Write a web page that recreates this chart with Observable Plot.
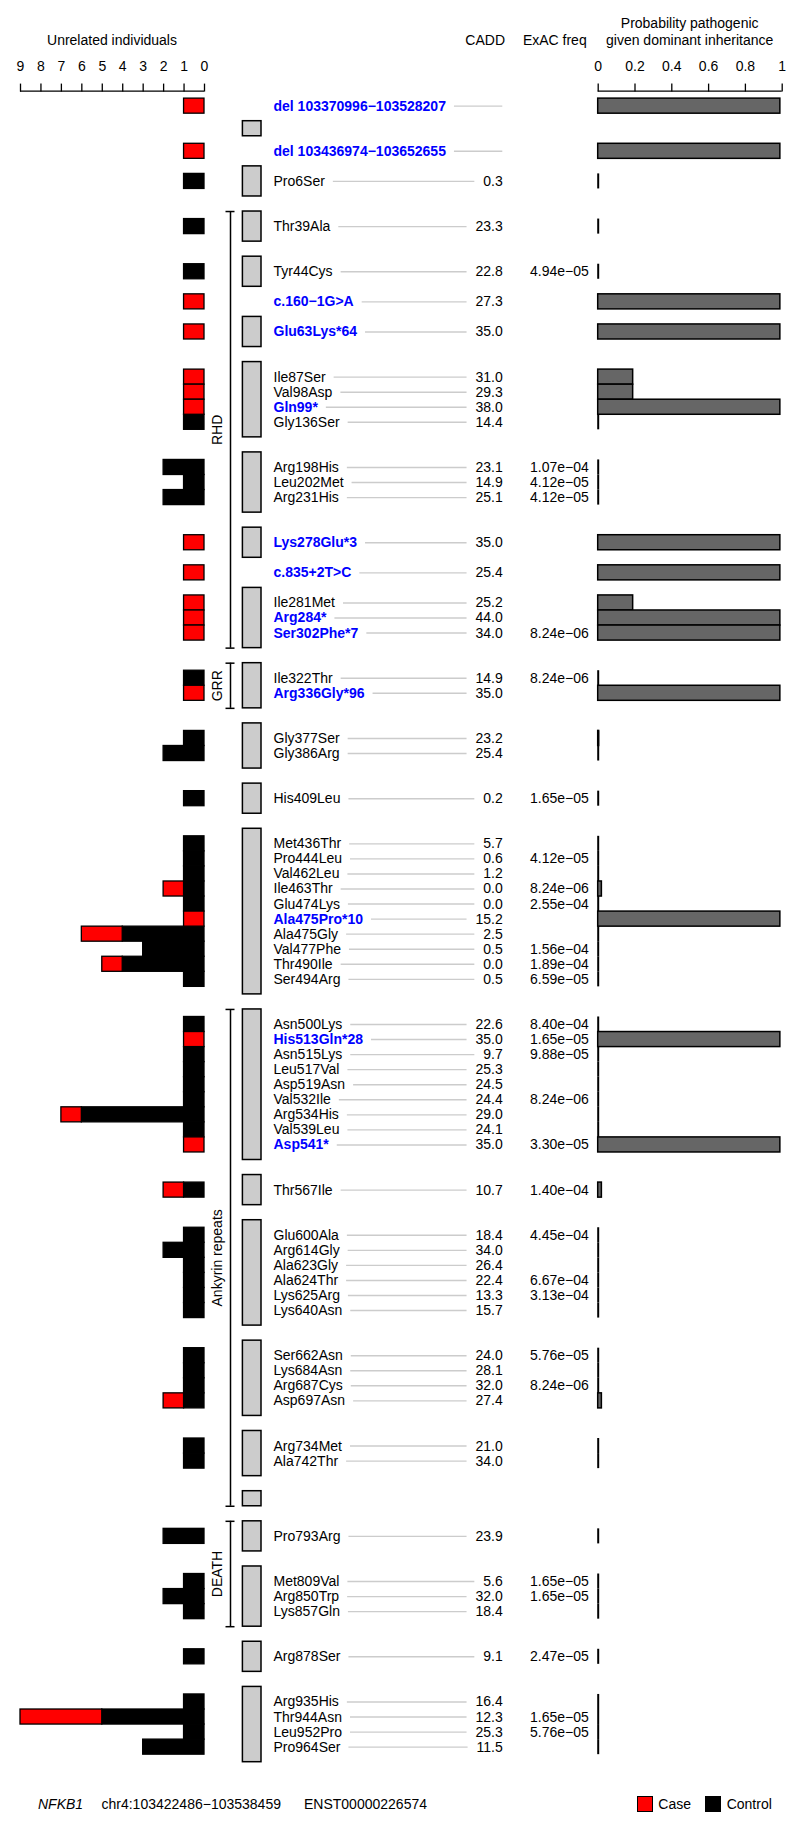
<!DOCTYPE html>
<html><head><meta charset="utf-8">
<script src="https://cdn.jsdelivr.net/npm/d3@7"></script>
<script src="https://cdn.jsdelivr.net/npm/@observablehq/plot@0.6"></script>
<style>
body{margin:0;background:#fff;font-family:"Liberation Sans",Arial,Helvetica,sans-serif;}
#wrap{position:relative;width:800px;height:1828px;overflow:hidden;}
#wrap svg{position:absolute;left:0;top:0;}
.t{position:absolute;font-size:14px;line-height:16px;white-space:nowrap;color:#000;}
.sq{position:absolute;width:14px;height:14px;border:1px solid #000;box-sizing:content-box;}
</style></head><body><div id="wrap"></div>
<script>
// ---------------- data ----------------
const variants = ["del 103370996−103528207","del 103436974−103652655","Pro6Ser","Thr39Ala","Tyr44Cys","c.160−1G>A","Glu63Lys*64","Ile87Ser","Val98Asp","Gln99*","Gly136Ser","Arg198His","Leu202Met","Arg231His","Lys278Glu*3","c.835+2T>C","Ile281Met","Arg284*","Ser302Phe*7","Ile322Thr","Arg336Gly*96","Gly377Ser","Gly386Arg","His409Leu","Met436Thr","Pro444Leu","Val462Leu","Ile463Thr","Glu474Lys","Ala475Pro*10","Ala475Gly","Val477Phe","Thr490Ile","Ser494Arg","Asn500Lys","His513Gln*28","Asn515Lys","Leu517Val","Asp519Asn","Val532Ile","Arg534His","Val539Leu","Asp541*","Thr567Ile","Glu600Ala","Arg614Gly","Ala623Gly","Ala624Thr","Lys625Arg","Lys640Asn","Ser662Asn","Lys684Asn","Arg687Cys","Asp697Asn","Arg734Met","Ala742Thr","Pro793Arg","Met809Val","Arg850Trp","Lys857Gln","Arg878Ser","Arg935His","Thr944Asn","Leu952Pro","Pro964Ser"];
// exon number of each variant (x.5 = intronic, between exon x and x+1)
const exonPos = [0.5,1.5,2,3,4,4.5,5,6,6,6,6,7,7,7,8,8.5,9,9,9,10,10,11,11,12,13,13,13,13,13,13,13,13,13,13,14,14,14,14,14,14,14,14,14,15,16,16,16,16,16,16,17,17,17,17,18,18,20,21,21,21,22,23,23,23,23];
const nExons = 23;
const cadd = [null,null,0.3,23.3,22.8,27.3,35.0,31.0,29.3,38.0,14.4,23.1,14.9,25.1,35.0,25.4,25.2,44.0,34.0,14.9,35.0,23.2,25.4,0.2,5.7,0.6,1.2,0.0,0.0,15.2,2.5,0.5,0.0,0.5,22.6,35.0,9.7,25.3,24.5,24.4,29.0,24.1,35.0,10.7,18.4,34.0,26.4,22.4,13.3,15.7,24.0,28.1,32.0,27.4,21.0,34.0,23.9,5.6,32.0,18.4,9.1,16.4,12.3,25.3,11.5];
const exac = [null,null,null,null,4.94e-5,null,null,null,null,null,null,1.07e-4,4.12e-5,4.12e-5,null,null,null,null,8.24e-6,8.24e-6,null,null,null,1.65e-5,null,4.12e-5,null,8.24e-6,2.55e-4,null,null,1.56e-4,1.89e-4,6.59e-5,8.40e-4,1.65e-5,9.88e-5,null,null,8.24e-6,null,null,3.30e-5,1.40e-4,4.45e-4,null,null,6.67e-4,3.13e-4,null,5.76e-5,null,8.24e-6,null,null,null,null,1.65e-5,1.65e-5,null,2.47e-5,null,1.65e-5,5.76e-5,null];
const prob = [0.99,0.99,0,0,0,0.99,0.99,0.19,0.19,0.99,0,0,0,0,0.99,0.99,0.19,0.99,0.99,0,0.99,0.005,0,0,0,0,0,0.02,0,0.99,0,0,0,0,0,0.99,0,0,0,0,0,0,0.99,0.02,0,0,0,0,0,0,0,0,0,0.02,0,0,0,0,0,0,0,0,0,0,0];
const controls = [0,0,1,1,1,0,0,0,0,0,1,2,1,2,0,0,0,0,0,1,0,1,2,1,1,1,1,1,1,0,4,3,4,1,1,0,1,1,1,1,6,1,0,1,1,2,1,1,1,1,1,1,1,1,1,1,2,1,2,1,1,1,5,1,3];
const cases =    [1,1,0,0,0,1,1,1,1,1,0,0,0,0,1,1,1,1,1,0,1,0,0,0,0,0,0,1,0,1,2,0,1,0,0,1,0,0,0,0,1,0,1,1,0,0,0,0,0,0,0,0,0,1,0,0,0,0,0,0,0,0,4,0,0];
const domainNames = ["RHD","GRR","Ankyrin repeats","DEATH"];
const domainFirstExon = [3,10,14,20];
const domainLastExon = [9,10,19,21];
const countTicks = [0,1,2,3,4,5,6,7,8,9];
const probTicks = [0,0.2,0.4,0.6,0.8,1];

// ---------------- layout ----------------
const FONT = '"Liberation Sans", Arial, Helvetica, sans-serif';
const U = 15.055, TOP0 = 120.7, H = 1790;
const Y0 = -2, Y1 = 110;
const MT = TOP0 + Y0 * U, MB = H - (TOP0 + Y1 * U);
const LABEL_X = 273, CADD_X = 502.3, EXAC_X = 588.3, GAP = 8.5;
const EXON_X1 = 242.4, EXON_X2 = 261.0, BR_X = 230, SERIF = 4.5, DOM_LABEL_X = 217.5;

const rows = variants.map((name, i) => ({name, pos: exonPos[i], cadd: cadd[i], exac: exac[i], prob: prob[i], control: controls[i], cases: cases[i]}));
const exonBoxes = [];
let cursor = Y0;
for (let e = 1; e <= nExons; e++) {
  const intr = rows.filter(d => d.pos === e - 0.5);
  intr.forEach((d, i) => d.c = cursor + 1 + i);
  cursor += 1 + intr.length;
  const ex = rows.filter(d => d.pos === e);
  const top = cursor;
  ex.forEach((d, j) => d.c = top + 1 + j);
  cursor = top + ex.length + 1;
  exonBoxes.push({exon: e, y1: top, y2: cursor});
}
const domains = domainNames.map((name, i) => ({name, y1: exonBoxes[domainFirstExon[i]-1].y1, y2: exonBoxes[domainLastExon[i]-1].y2}));
const domainEdges = domains.flatMap(d => [{y: d.y1}, {y: d.y2}]);

function fmtExp(v) {
  const [m, e] = v.toExponential(2).split("e");
  const n = +e;
  return `${m}e${n < 0 ? "−" : "+"}${String(Math.abs(n)).padStart(2, "0")}`;
}
const ctx = document.createElement("canvas").getContext("2d");
function tw(s, bold) { ctx.font = `${bold ? "bold " : ""}14px ${FONT}`; return ctx.measureText(s).width; }
rows.forEach(d => {
  d.blue = d.prob >= 0.9;
  d.caddText = d.cadd == null ? null : d.cadd.toFixed(1);
  d.exacText = d.exac == null ? null : fmtExp(d.exac);
  d.lx1 = LABEL_X + tw(d.name, d.blue) + GAP;
  d.lx2 = d.caddText == null ? CADD_X : CADD_X - tw(d.caddText, false) - GAP;
});
const rowY1 = d => d.c - 0.5, rowY2 = d => d.c + 0.5;

const common = {
  width: 800, height: H, marginTop: MT, marginBottom: MB,
  style: {background: "transparent", fontFamily: FONT, fontSize: "14px", color: "black"},
  y: {domain: [Y0, Y1], reverse: true, axis: null}
};

// left panel: unrelated individuals
const left = Plot.plot({
  ...common, marginLeft: 20, marginRight: 596,
  x: {domain: [0, 9], reverse: true},
  marks: [
    Plot.axisX({anchor: "top", ticks: countTicks, tickFormat: d => String(d), tickSize: 8, tickPadding: 12, fontSize: 14, strokeWidth: 1.3, label: null}),
    Plot.ruleY([Y0], {x1: () => 0, x2: () => 9, strokeWidth: 1.3}),
    Plot.rect(rows.filter(d => d.control > 0), {x1: () => 0, x2: "control", y1: rowY1, y2: rowY2, fill: "black", stroke: "black", strokeWidth: 1.3}),
    Plot.rect(rows.filter(d => d.cases > 0), {x1: "control", x2: d => d.control + d.cases, y1: rowY1, y2: rowY2, fill: "#ff0000", stroke: "black", strokeWidth: 1.3})
  ]
});

// middle panel: exons, domains, labels, CADD, ExAC
const mid = Plot.plot({
  ...common, marginLeft: 0, marginRight: 0,
  x: {type: "identity", axis: null},
  marks: [
    Plot.ruleY(rows, {y: "c", x1: "lx1", x2: "lx2", stroke: "#cccccc", strokeWidth: 1.4}),
    Plot.rect(exonBoxes, {x1: () => EXON_X1, x2: () => EXON_X2, y1: "y1", y2: "y2", fill: "#cccccc", stroke: "black", strokeWidth: 1.5}),
    Plot.ruleX(domains, {x: () => BR_X, y1: "y1", y2: "y2", stroke: "black", strokeWidth: 1.5}),
    Plot.ruleY(domainEdges, {y: "y", x1: () => BR_X - SERIF, x2: () => BR_X + SERIF, stroke: "black", strokeWidth: 1.5}),
    Plot.text(domains, {x: () => DOM_LABEL_X, y: d => (d.y1 + d.y2) / 2, text: "name", rotate: -90, fontSize: 14, fill: "black"}),
    Plot.text(rows.filter(d => !d.blue), {x: () => LABEL_X, y: "c", text: "name", textAnchor: "start", fontSize: 14, fill: "black"}),
    Plot.text(rows.filter(d => d.blue), {x: () => LABEL_X, y: "c", text: "name", textAnchor: "start", fontSize: 14, fontWeight: "bold", fill: "#0000ff"}),
    Plot.text(rows.filter(d => d.caddText != null), {x: () => CADD_X, y: "c", text: "caddText", textAnchor: "end", fontSize: 14, fill: "black"}),
    Plot.text(rows.filter(d => d.exacText != null), {x: () => EXAC_X, y: "c", text: "exacText", textAnchor: "end", fontSize: 14, fill: "black"})
  ]
});

// right panel: probability pathogenic
const right = Plot.plot({
  ...common, marginLeft: 597.7, marginRight: 18.3,
  x: {domain: [0, 1]},
  marks: [
    Plot.axisX({anchor: "top", ticks: probTicks, tickFormat: d => String(d), tickSize: 8, tickPadding: 12, fontSize: 14, strokeWidth: 1.3, label: null}),
    Plot.ruleY([Y0], {x1: () => 0, x2: () => 1, strokeWidth: 1.3}),
    Plot.ruleX(rows, {x: () => 0, y1: rowY1, y2: rowY2, stroke: "black", strokeWidth: 2}),
    Plot.rect(rows.filter(d => d.prob > 0), {x1: () => 0, x2: "prob", y1: rowY1, y2: rowY2, fill: "#666666", stroke: "black", strokeWidth: 1.5})
  ]
});

const wrap = document.getElementById("wrap");
wrap.append(left, mid, right);

function addText(txt, opts) {
  const el = document.createElement("div");
  el.className = "t";
  el.textContent = txt;
  Object.assign(el.style, opts);
  wrap.append(el);
}
addText("Unrelated individuals", {left: "12px", width: "200px", textAlign: "center", top: "31.5px"});
addText("CADD", {left: "405px", width: "100px", textAlign: "right", top: "31.5px"});
addText("ExAC freq", {left: "486.7px", width: "100px", textAlign: "right", top: "31.5px"});
addText("Probability pathogenic", {left: "589.7px", width: "200px", textAlign: "center", top: "14.5px"});
addText("given dominant inheritance", {left: "589.7px", width: "200px", textAlign: "center", top: "31.5px"});
addText("NFKB1", {left: "38px", top: "1795.5px", fontStyle: "italic"});
addText("chr4:103422486−103538459", {left: "101.5px", top: "1795.5px"});
addText("ENST00000226574", {left: "304px", top: "1795.5px"});
addText("Case", {left: "658.3px", top: "1795.5px"});
addText("Control", {left: "726.7px", top: "1795.5px"});
const sq1 = document.createElement("div"); sq1.className = "sq";
Object.assign(sq1.style, {left: "636.7px", top: "1796px", background: "#ff0000"});
const sq2 = document.createElement("div"); sq2.className = "sq";
Object.assign(sq2.style, {left: "705px", top: "1796px", background: "#000000"});
wrap.append(sq1, sq2);
</script></body></html>
